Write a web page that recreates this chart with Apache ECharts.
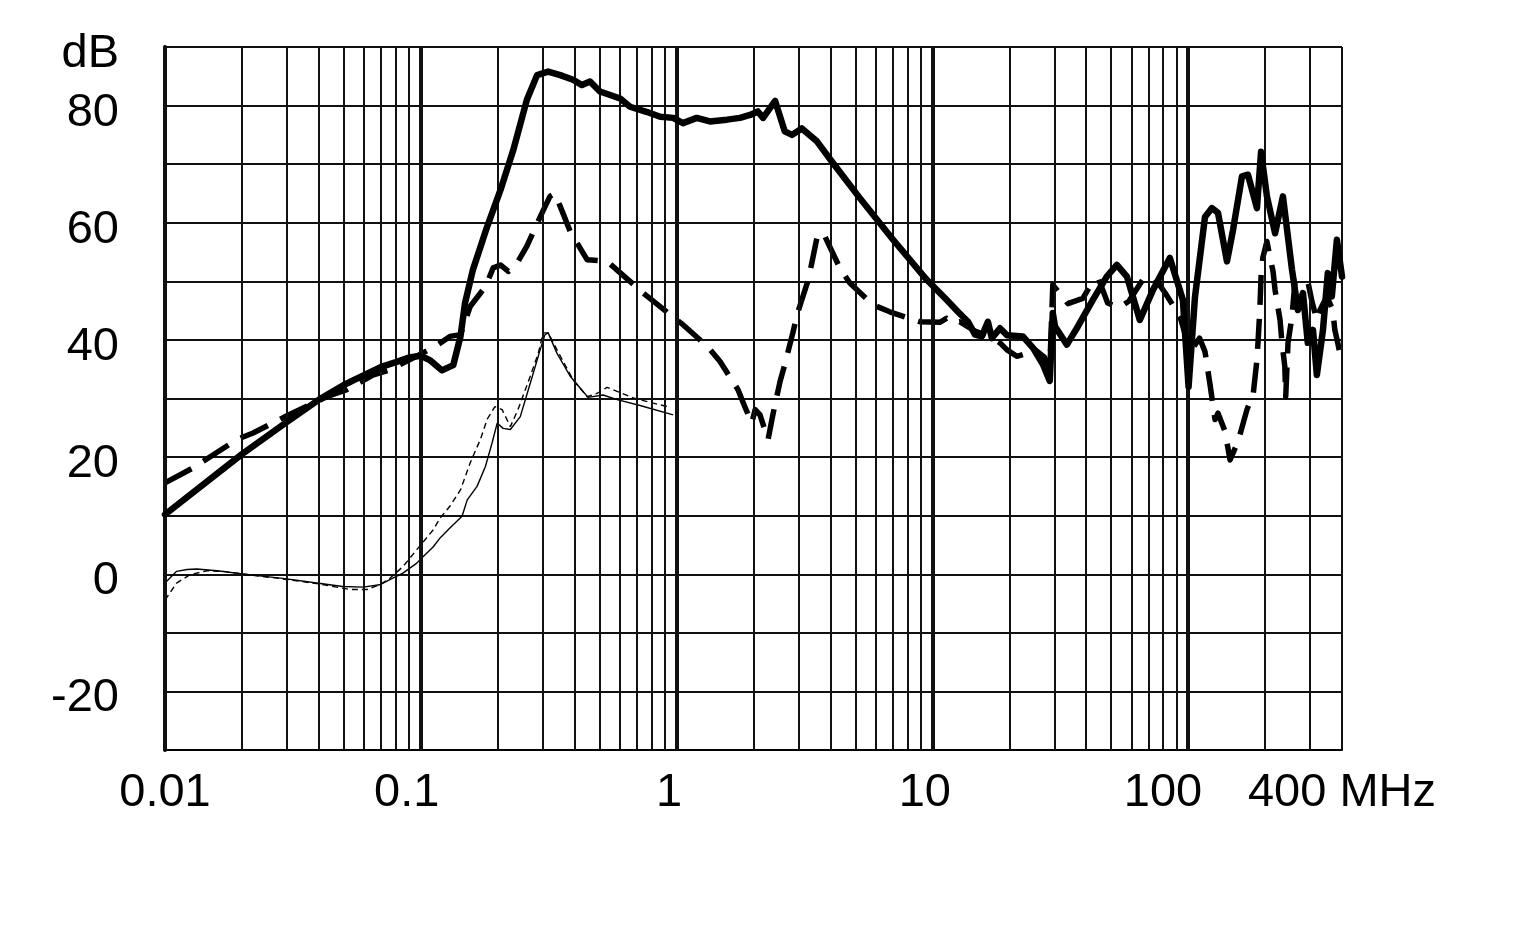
<!DOCTYPE html>
<html><head><meta charset="utf-8">
<script src="https://cdn.jsdelivr.net/npm/echarts@6/dist/echarts.min.js"></script>
<style>html,body{margin:0;padding:0;background:#fff}#c{width:1517px;height:925px}</style>
</head><body><div id="c"></div>
<script>
// Thick solid curve
const freqA = [0.01,0.02,0.03,0.04,0.05,0.06,0.07,0.08,0.09,0.1,0.109,0.121,0.134,0.143,0.149,0.160,0.182,0.205,0.230,0.260,0.285,0.315,0.351,0.394,0.427,0.459,0.502,0.550,0.602,0.658,0.768,0.863,0.970,1.06,1.20,1.35,1.575,1.77,1.94,2.08,2.18,2.43,2.65,2.83,3.09,3.54,4.09,5.21,7.03,9.5,11.4,12.6,13.8,14.7,15.6,16.5,17.1,18.4,19.6,22.6,24.8,27.1,28.8,29.6,30.2,33.6,37.1,42.4,48.1,52.7,57.7,64.8,72.9,84.9,95.5,100.5,106.5,116.5,124,131,142,150,162.5,171.5,186,193,203.5,219,235,255,269,281.5,294,308,319,337,352,365,382,400];
const dbA = [10.2,20.5,26.0,29.8,32.3,34.0,35.4,36.2,37.0,37.3,36.5,34.8,35.7,40.6,46.3,52.0,59.4,65.6,72.4,81.0,85.2,85.8,85.2,84.4,83.5,84.1,82.4,81.8,81.2,79.8,78.9,78.1,77.9,77.0,77.9,77.3,77.6,77.9,78.4,79.0,77.9,80.8,75.6,75.0,76.1,73.9,70.2,64.2,57.1,50.3,46.8,44.8,43.1,40.9,40.6,43.1,40.3,42.0,40.8,40.6,38.6,35.8,33.0,44.6,42.3,39.2,42.3,46.8,50.8,52.8,50.8,43.4,48.5,54.0,46.8,32.0,47.4,61.0,62.5,61.7,53.4,58.8,67.9,68.2,62.5,72.1,64.5,58.2,64.5,52.0,45.1,48.0,39.5,41.7,34.0,41.7,51.4,47.4,57.1,50.8];
// Thick dashed curve
const freqB = [0.01,0.0128,0.0191,0.0221,0.0289,0.0429,0.0514,0.0649,0.0757,0.0904,0.114,0.130,0.143,0.156,0.179,0.192,0.205,0.220,0.238,0.260,0.293,0.320,0.335,0.360,0.384,0.447,0.535,0.658,0.740,0.945,1.06,1.32,1.48,1.74,1.85,1.97,2.03,2.12,2.28,2.38,2.54,2.65,2.85,2.96,3.26,3.38,3.57,3.80,4.35,4.76,5.86,6.82,8.93,10.7,11.4,12.05,12.8,14.7,16.8,18.4,19.6,21.4,23.4,24.8,27.5,28.8,29.6,33.9,38.8,42.0,44.8,48.5,53.6,58.7,66.6,74.3,81.4,93,102,111,116.5,122,127.5,131,139.5,146,157,170,180,186,188,191,193,196,203.5,209,215,219,229,233,239,241,246,255,262,294,305,319,328,349,368,375,385,400];
const dbB = [15.6,18.1,23.0,24.1,26.7,30.3,31.5,34.0,34.9,36.6,38.9,40.6,40.9,45.7,49.1,52.3,52.8,51.7,53.1,56.0,61.0,64.5,65.0,61.6,58.5,53.7,53.4,50.0,48.0,44.3,42.6,38.9,36.3,31.5,28.6,25.8,28.1,27.2,23.0,27.2,32.9,35.8,41.2,44.3,50.0,53.1,58.2,57.7,52.3,49.7,46.0,44.8,43.1,43.0,43.7,42.9,43.1,41.5,40.5,39.5,38.3,37.2,37.7,38.6,37.0,35.0,49.4,46.2,47.1,49.7,50.3,46.3,45.5,46.6,50.3,50.5,48.0,44.0,38.0,40.3,38.0,32.3,26.4,27.5,24.4,19.5,22.7,28.1,30.9,36.6,40.0,45.4,50.8,54.0,56.8,54.2,51.7,48.5,43.4,39.5,35.5,30.3,39.5,44.0,50.0,50.0,46.6,43.4,45.1,47.4,45.1,41.7,39.5,36.0];
// Thin solid curve
const freqC = [0.01,0.0111,0.0122,0.0133,0.0160,0.0215,0.0289,0.0392,0.0495,0.0595,0.0691,0.0757,0.0852,0.0965,0.1,0.112,0.119,0.130,0.145,0.152,0.166,0.179,0.190,0.199,0.210,0.224,0.245,0.268,0.293,0.306,0.315,0.341,0.384,0.420,0.451,0.516,0.586,0.720,0.970];
const dbC = [-1.5,0.5,0.8,0.9,0.6,-0.1,-0.7,-1.5,-2.1,-2.2,-1.8,-0.9,0.2,1.9,2.6,4.7,6.2,7.9,9.9,12.7,15.0,18.4,22.4,25.8,24.9,24.7,26.9,32.6,38.3,40.9,41.2,37.7,33.8,31.8,30.2,30.6,29.8,28.8,27.2];
// Thin dashed curve
const freqD = [0.01,0.0111,0.0125,0.0146,0.0168,0.0215,0.0289,0.0392,0.0528,0.0616,0.0691,0.0757,0.0852,0.0965,0.112,0.119,0.130,0.143,0.156,0.171,0.182,0.195,0.208,0.224,0.240,0.268,0.288,0.301,0.315,0.341,0.394,0.447,0.490,0.535,0.586,0.677,0.811,0.945];
const dbD = [-4.4,-1.5,-0.1,0.6,0.5,-0.1,-0.8,-1.6,-2.6,-2.6,-1.8,-0.7,1.3,4.2,7.6,9.6,11.6,14.4,19.0,23.0,26.5,28.6,28.1,25.2,28.1,33.8,37.7,41.2,41.2,38.3,33.2,30.3,30.9,31.9,31.2,30.1,29.2,28.5];

const decades = [0.01, 0.1, 1, 10, 100];
const minorSteps = [2, 3, 4, 5, 6, 7, 8, 9];
const xTickLabels = {'0.01': '0.01', '0.1': '0.1', '1': '1', '10': '10', '100': '100', '400': '400 MHz'};
const yTickLabels = {'90': 'dB', '80': '80', '60': '60', '40': '40', '20': '20', '0': '0', '-20': '-20'};

const FONT = "'Liberation Sans', Arial, sans-serif";
function zip(f, d) { return f.map((v, i) => [v, d[i]]); }

const gridLines = [];
decades.forEach(d => {
  gridLines.push({xAxis: d, lineStyle: {width: 4}});
  minorSteps.forEach(k => {
    const v = +(d * k).toPrecision(3);
    if (v <= 400) gridLines.push({xAxis: v, lineStyle: {width: 2}});
  });
});

// per-label horizontal nudges (style names)
const xLabelStyle = {'0.01': 'l0', '0.1': 'l1', '1': 'l2', '10': 'l2', '100': 'l3', '400': 'l4'};
const xRich = {
  l0: {fontFamily: FONT, fontSize: 47, color: '#000', padding: [0, 0, 0, 0]},
  l1: {fontFamily: FONT, fontSize: 47, color: '#000', padding: [0, 28, 0, 0]},
  l2: {fontFamily: FONT, fontSize: 47, color: '#000', padding: [0, 15, 0, 0]},
  l3: {fontFamily: FONT, fontSize: 47, color: '#000', padding: [0, 50, 0, 0]},
  l4: {fontFamily: FONT, fontSize: 47, color: '#000', padding: [0, 0, 0, 0]}
};

const chart = echarts.init(document.getElementById('c'), null, {renderer: 'canvas'});
chart.setOption({
  animation: false,
  backgroundColor: '#fff',
  grid: {left: 165, right: 175, top: 47, bottom: 175, containLabel: false},
  xAxis: {
    type: 'log', logBase: 10, min: 0.01, max: 400,
    axisLine: {show: true, onZero: false, lineStyle: {color: '#000', width: 2}},
    axisTick: {show: false},
    splitLine: {show: false},
    axisLabel: {
      show: true, showMinLabel: true, showMaxLabel: true,
      color: '#000', fontFamily: FONT, fontSize: 47, margin: 20,
      rich: xRich,
      formatter: v => {
        const k = String(+(+v).toPrecision(3));
        return xTickLabels[k] ? '{' + xLabelStyle[k] + '|' + xTickLabels[k] + '}' : '';
      }
    }
  },
  yAxis: {
    type: 'value', min: -30, max: 90, interval: 10,
    axisLine: {show: true, onZero: false, lineStyle: {color: '#000', width: 4}},
    axisTick: {show: false},
    splitLine: {show: true, lineStyle: {color: '#111', width: 2}},
    axisLabel: {
      show: true, color: '#000', fontFamily: FONT, fontSize: 47, margin: 46,
      rich: {y: {fontFamily: FONT, fontSize: 47, color: '#000', padding: [14, 0, 0, 0]}},
      formatter: v => yTickLabels[String(v)] ? '{y|' + yTickLabels[String(v)] + '}' : ''
    }
  },
  series: [
    {
      type: 'line', name: 'grid', data: [], z: 1, silent: true,
      markLine: {
        silent: true, symbol: ['none', 'none'], label: {show: false},
        lineStyle: {color: '#111', type: 'solid', width: 2},
        emphasis: {disabled: true},
        data: gridLines
      }
    },
    {
      type: 'line', name: 'thin solid', data: zip(freqC, dbC), z: 3, showSymbol: false, symbol: 'none',
      lineStyle: {color: '#000', width: 1.4}
    },
    {
      type: 'line', name: 'thin dashed', data: zip(freqD, dbD), z: 3, showSymbol: false, symbol: 'none',
      lineStyle: {color: '#000', width: 1.4, type: [6, 4]}
    },
    {
      type: 'line', name: 'thick dashed', data: zip(freqB, dbB), z: 4, showSymbol: false, symbol: 'none',
      lineStyle: {color: '#000', width: 5.5, type: [30, 14], join: 'round'}
    },
    {
      type: 'line', name: 'thick solid', data: zip(freqA, dbA), z: 5, showSymbol: false, symbol: 'none',
      lineStyle: {color: '#000', width: 6.5, join: 'round', cap: 'round'}
    }
  ]
});
</script>
</body></html>
